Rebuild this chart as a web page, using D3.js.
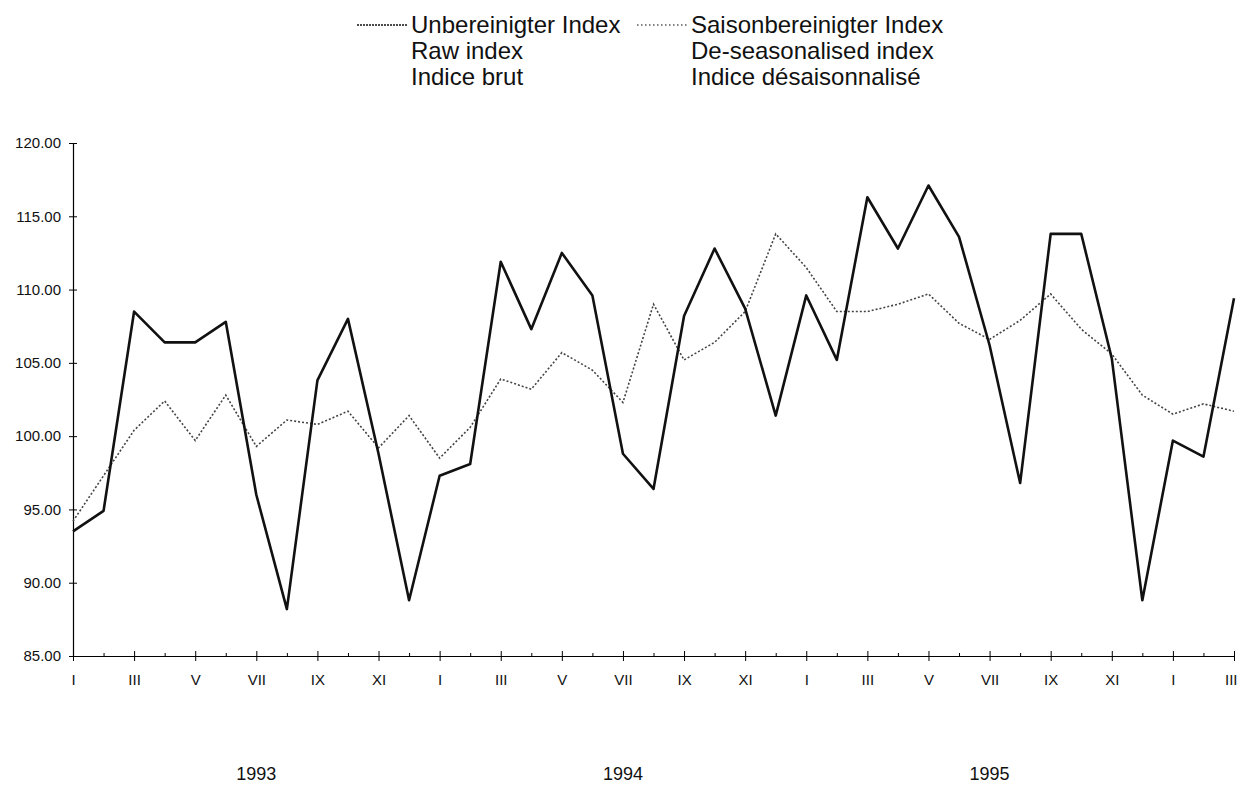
<!DOCTYPE html>
<html>
<head>
<meta charset="utf-8">
<script src="https://cdn.jsdelivr.net/npm/d3@7"></script>
<style>
  body { margin: 0; background: #fff; }
  svg { font-family: "Liberation Sans", Arial, sans-serif; }
</style>
</head>
<body>
<div class="chart"></div>
<script>
// monthly index values, Jan 1993 .. Mar 1996
const monthNames = ["I","II","III","IV","V","VI","VII","VIII","IX","X","XI","XII"]
const years = ["1993", "1994", "1995"]
const yTicks = [85, 90, 95, 100, 105, 110, 115, 120]

const raw = [93.5, 94.9, 108.5, 106.4, 106.4, 107.8, 96.0, 88.2, 103.8, 108.0, 98.8, 88.8,
             97.3, 98.1, 111.9, 107.3, 112.5, 109.6, 98.8, 96.4, 108.2, 112.8, 108.7, 101.4,
             109.6, 105.2, 116.3, 112.8, 117.1, 113.6, 106.2, 96.8, 113.8, 113.8, 105.3, 88.8,
             99.7, 98.6, 109.4]

const seas = [94.2, 97.3, 100.4, 102.4, 99.7, 102.8, 99.3, 101.1, 100.8, 101.7, 99.2, 101.4,
              98.5, 100.6, 103.9, 103.2, 105.7, 104.5, 102.3, 109.0, 105.2, 106.4, 108.5, 113.8,
              111.5, 108.5, 108.5, 109.0, 109.7, 107.7, 106.6, 107.9, 109.7, 107.3, 105.6, 102.8,
              101.5, 102.2, 101.7]

const legendRows = [
    ["Unbereinigter Index", "Raw index", "Indice brut"],
    ["Saisonbereinigter Index", "De-seasonalised index", "Indice désaisonnalisé"]
]

const width = 1239, height = 785
const margin = ({top: 143, right: 5, bottom: 129, left: 73})

const svg = d3.select(".chart").append("svg")
    .attr("width", width)
    .attr("height", height)

const months = d3.range(raw.length)
const last = raw.length - 1

const xScale = d3.scaleLinear()
    .domain([0, last])
    .range([margin.left, width - margin.right])

const yScale = d3.scaleLinear()
    .domain([85, 120])
    .range([height - margin.bottom, margin.top])

// y axis
const yAxis = d3.axisLeft(yScale)
    .tickValues(yTicks)
    .tickFormat(d3.format(".2f"))
    .tickSize(4)
    .tickPadding(8)

const gy = svg.append("g")
    .attr("class", "axis y-axis")
    .attr("transform", `translate(${margin.left},0)`)
    .call(yAxis)
gy.select(".domain").attr("stroke", "#000").attr("stroke-width", 1.2)
gy.selectAll(".tick line").attr("x2", 4).attr("x1", -4).attr("stroke", "#000")
gy.selectAll("text").attr("font-size", 15).attr("fill", "#111")

// x axis: tick every month, label every other month
const xAxis = d3.axisBottom(xScale)
    .tickValues(months)
    .tickFormat(i => i % 2 === 0 ? monthNames[i % 12] : "")
    .tickSize(0)
    .tickPadding(18)

const gx = svg.append("g")
    .attr("class", "axis x-axis")
    .attr("transform", `translate(0,${height - margin.bottom})`)
    .call(xAxis)
gx.select(".domain").attr("stroke", "#000").attr("stroke-width", 1.2)
gx.selectAll(".tick line")
    .attr("stroke", "#000")
    .attr("y1", i => i % 2 === 0 ? -5 : -3)
    .attr("y2", i => i % 2 === 0 ? 5 : 0)
gx.selectAll("text").attr("font-size", 15).attr("fill", "#111")
gx.selectAll(".tick").filter(i => i === last).select("text")
    .attr("text-anchor", "end")
    .attr("dx", 3)

// years
svg.selectAll(".year")
    .data(years)
    .enter()
    .append("text")
    .attr("class", "year")
    .attr("x", (d, i) => xScale(i * 12 + 6))
    .attr("y", 780)
    .attr("text-anchor", "middle")
    .attr("font-size", 18)
    .attr("fill", "#111")
    .text(d => d)

// lines
const line = d3.line()
    .x((d, i) => xScale(i))
    .y(d => yScale(d))

svg.append("path")
    .datum(seas)
    .attr("fill", "none")
    .attr("stroke", "#444")
    .attr("stroke-width", 1.6)
    .attr("stroke-dasharray", "2,2")
    .attr("d", line)

svg.append("path")
    .datum(raw)
    .attr("fill", "none")
    .attr("stroke", "#111")
    .attr("stroke-width", 2.6)
    .attr("stroke-linejoin", "round")
    .attr("d", line)

// legend
const legend = svg.append("g").attr("class", "legend")
const legendX = [411, 691]
const sampleStyle = [
    {stroke: "#111", dash: "2,1", w: 1.6},
    {stroke: "#555", dash: "1.5,2.5", w: 1.6}
]

legendRows.forEach((rows, k) => {
    legend.append("line")
        .attr("x1", legendX[k] - 54)
        .attr("x2", legendX[k] - 3)
        .attr("y1", 25)
        .attr("y2", 25)
        .attr("stroke", sampleStyle[k].stroke)
        .attr("stroke-width", sampleStyle[k].w)
        .attr("stroke-dasharray", sampleStyle[k].dash)

    legend.selectAll(".lt" + k)
        .data(rows)
        .enter()
        .append("text")
        .attr("x", legendX[k])
        .attr("y", (d, i) => 33 + i * 26)
        .attr("font-size", 24)
        .attr("fill", "#111")
        .text(d => d)
})
</script>
</body>
</html>
